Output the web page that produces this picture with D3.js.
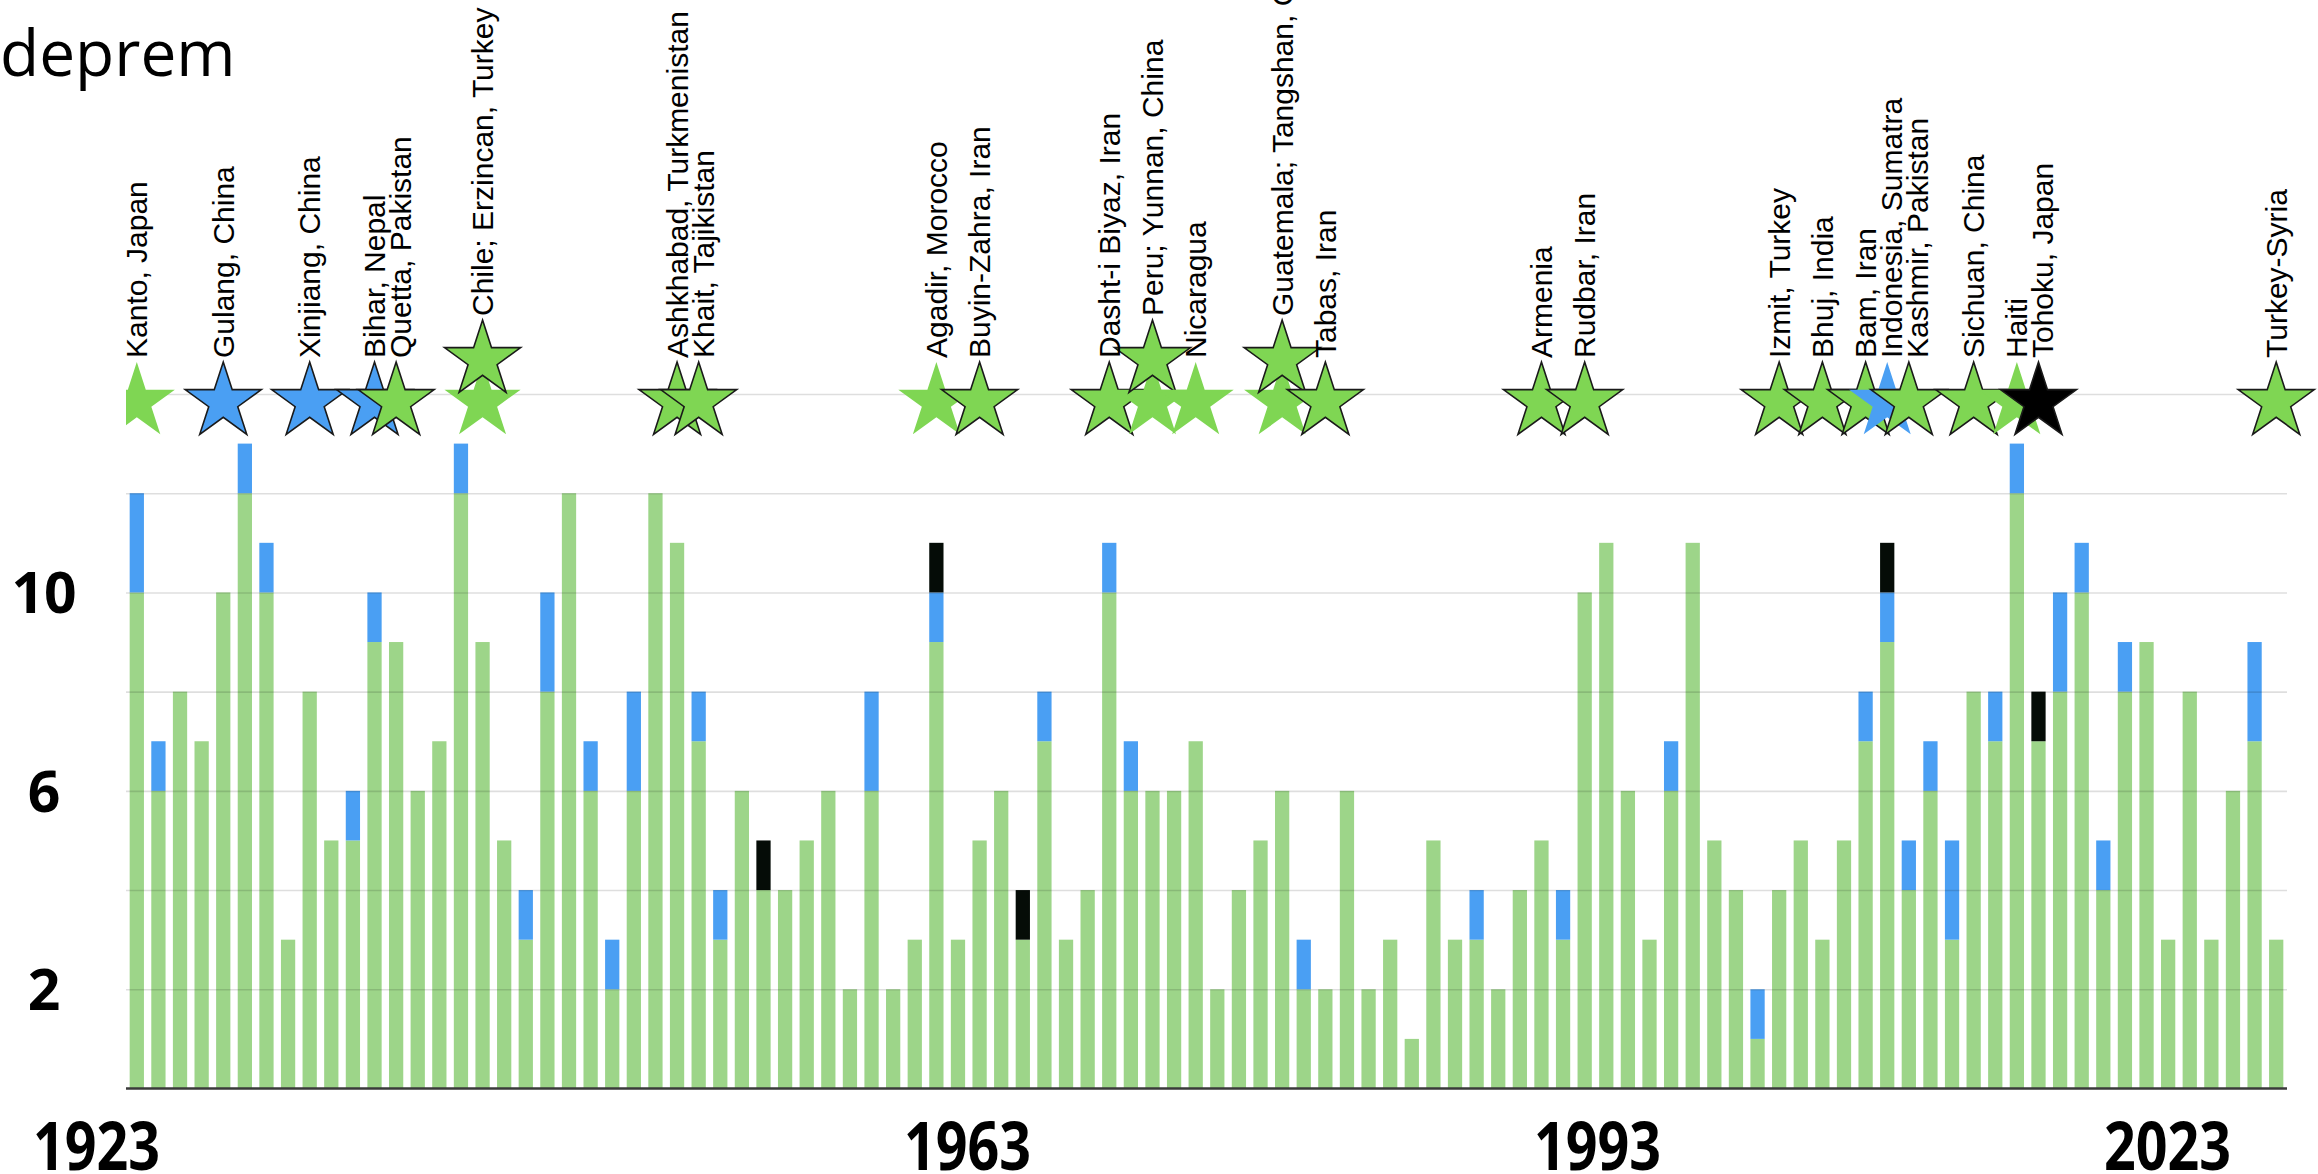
<!DOCTYPE html>
<html>
<head>
<meta charset="utf-8">
<script src="https://cdn.jsdelivr.net/npm/d3@7"></script>
<style>
  html, body { margin: 0; padding: 0; background: #fff; }
  svg { display: block; }
</style>
</head>
<body>
<svg id="chart" width="2318" height="1174"></svg>
<script>
// ---- data -------------------------------------------------------------
const years = d3.range(1923, 2023);

const greenCounts = [
  10, 6, 8, 7, 10, 12, 10, 3, 8, 5,   // 1923-1932
  5, 9, 9, 6, 7, 12, 9, 5, 3, 8,      // 1933-1942
  12, 6, 2, 6, 12, 11, 7, 3, 6, 4,    // 1943-1952
  4, 5, 6, 2, 6, 2, 3, 9, 3, 5,       // 1953-1962
  6, 3, 7, 3, 4, 10, 6, 6, 6, 7,      // 1963-1972
  2, 4, 5, 6, 2, 2, 6, 2, 3, 1,       // 1973-1982
  5, 3, 3, 2, 4, 5, 3, 10, 11, 6,     // 1983-1992
  3, 6, 11, 5, 4, 1, 4, 5, 3, 5,      // 1993-2002
  7, 9, 4, 6, 3, 8, 7, 12, 7, 8,      // 2003-2012
  10, 4, 8, 9, 3, 8, 3, 6, 7, 3       // 2013-2022
];

const blueCounts = [
  2, 1, 0, 0, 0, 1, 1, 0, 0, 0,
  1, 1, 0, 0, 0, 1, 0, 0, 1, 2,
  0, 1, 1, 2, 0, 0, 1, 1, 0, 0,
  0, 0, 0, 0, 2, 0, 0, 1, 0, 0,
  0, 0, 1, 0, 0, 1, 1, 0, 0, 0,
  0, 0, 0, 0, 1, 0, 0, 0, 0, 0,
  0, 0, 1, 0, 0, 0, 1, 0, 0, 0,
  0, 1, 0, 0, 0, 1, 0, 0, 0, 0,
  1, 1, 1, 1, 2, 0, 1, 1, 0, 2,
  1, 1, 1, 0, 0, 0, 0, 0, 2, 0
];

const blackCounts = [
  0, 0, 0, 0, 0, 0, 0, 0, 0, 0,
  0, 0, 0, 0, 0, 0, 0, 0, 0, 0,
  0, 0, 0, 0, 0, 0, 0, 0, 0, 1,
  0, 0, 0, 0, 0, 0, 0, 1, 0, 0,
  0, 1, 0, 0, 0, 0, 0, 0, 0, 0,
  0, 0, 0, 0, 0, 0, 0, 0, 0, 0,
  0, 0, 0, 0, 0, 0, 0, 0, 0, 0,
  0, 0, 0, 0, 0, 0, 0, 0, 0, 0,
  0, 1, 0, 0, 0, 0, 0, 0, 1, 0,
  0, 0, 0, 0, 0, 0, 0, 0, 0, 0
];

// notable earthquakes marked with stars
const quakeYears = [1923, 1927, 1931, 1934, 1935, 1939, 1939, 1948, 1949, 1960,
  1962, 1968, 1970, 1970, 1972, 1976, 1976, 1978, 1988, 1990,
  1999, 2001, 2003, 2004, 2005, 2008, 2010, 2011, 2023];
const quakeNames = ["Kanto, Japan", "Gulang, China", "Xinjiang, China", "Bihar, Nepal",
  "Quetta, Pakistan", "Chile", "Erzincan, Turkey", "Ashkhabad, Turkmenistan",
  "Khait, Tajikistan", "Agadir, Morocco", "Buyin-Zahra, Iran", "Dasht-i Biyaz, Iran",
  "Peru", "Yunnan, China", "Nicaragua", "Guatemala", "Tangshan, China", "Tabas, Iran",
  "Armenia", "Rudbar, Iran", "Izmit, Turkey", "Bhuj, India", "Bam, Iran",
  "Indonesia, Sumatra", "Kashmir, Pakistan", "Sichuan, China", "Haiti",
  "Tohoku, Japan", "Turkey-Syria"];
const quakeSeries = ["green", "blue", "blue", "blue", "green", "green", "green", "green",
  "green", "green", "green", "green", "green", "green", "green", "green", "green", "green",
  "green", "green", "green", "green", "green", "blue", "green", "green", "green",
  "black", "green"];
const quakeOutlined = [false, true, true, true, true, false, true, true, true, false,
  true, true, false, true, false, false, true, true, true, true,
  true, true, true, false, true, true, false, true, true];

const gridValues = [2, 4, 6, 8, 10, 12, 14];
const yTickValues = [2, 6, 10];
const xTickYears = [1923, 1963, 1993, 2023];
const seriesKeys = ["green", "blue", "black"];

// ---- layout -----------------------------------------------------------
const W = 2318, H = 1174;
const plot = { left: 126, right: 2287, top: 394, bottom: 1088.5 };
const starLevel = 14;          // stars sit on the top grid line
const starR = 40;              // outer radius of the star symbol
const starStackStep = 42;      // vertical offset for a second star in the same year

const svg = d3.select("#chart");

const x = d3.scaleBand()
  .domain(years)
  .range([plot.left, plot.right])
  .paddingInner(0.34)
  .paddingOuter(0.17);

const y = d3.scaleLinear()
  .domain([0, 14])
  .range([plot.bottom, plot.top]);

const color = d3.scaleOrdinal()
  .domain(seriesKeys)
  .range(["#9dd589", "#4a9ff3", "#050c07"]);

const starColor = d3.scaleOrdinal()
  .domain(seriesKeys)
  .range(["#7fd653", "#4a9ff3", "#000000"]);

// star positions follow the bar centres; later years pin to the last bar
const starX = d3.scaleLinear()
  .domain([years[0], years[years.length - 1]])
  .range([x(years[0]) + x.bandwidth() / 2, x(years[years.length - 1]) + x.bandwidth() / 2])
  .clamp(true);

// ---- title ------------------------------------------------------------
svg.append("text")
  .attr("x", 0)
  .attr("y", 76)
  .attr("font-family", "'Open Sans', sans-serif")
  .attr("font-size", 64)
  .attr("fill", "#000")
  .text("deprem");

// ---- stacked bars -----------------------------------------------------
const rows = years.map((yr, i) => ({
  year: yr, green: greenCounts[i], blue: blueCounts[i], black: blackCounts[i]
}));
const stacked = d3.stack().keys(seriesKeys)(rows);

svg.append("g")
  .selectAll("g")
  .data(stacked)
  .join("g")
  .attr("fill", d => color(d.key))
  .selectAll("rect")
  .data(d => d.filter(s => s[1] > s[0]))
  .join("rect")
  .attr("x", d => x(d.data.year))
  .attr("width", x.bandwidth())
  .attr("y", d => y(d[1]))
  .attr("height", d => y(d[0]) - y(d[1]));

// ---- grid lines & y labels -------------------------------------------
const grid = svg.append("g")
  .attr("transform", `translate(${plot.left},0)`)
  .call(d3.axisLeft(y).tickValues(gridValues).tickSize(-(plot.right - plot.left)).tickFormat(""));
grid.select(".domain").remove();
grid.selectAll(".tick line")
  .attr("stroke", "#000")
  .attr("stroke-opacity", 0.13)
  .attr("stroke-width", 1.6);

const yLabels = svg.append("g")
  .attr("transform", `translate(${plot.left},0)`)
  .call(d3.axisLeft(y).tickValues(yTickValues).tickSize(0));
yLabels.select(".domain").remove();
yLabels.selectAll(".tick text")
  .attr("x", 44 - plot.left)
  .attr("dy", "0.36em")
  .attr("text-anchor", "middle")
  .attr("font-family", "'Open Sans', sans-serif")
  .attr("font-weight", 700)
  .attr("font-size", 57)
  .attr("fill", "#000");

// baseline
svg.append("line")
  .attr("x1", plot.left).attr("x2", plot.right)
  .attr("y1", y(0)).attr("y2", y(0))
  .attr("stroke", "#3a3a3a")
  .attr("stroke-width", 2.5);

// ---- x labels ---------------------------------------------------------
const xLabelScale = d3.scaleLinear()
  .domain(xTickYears)
  .range([96, 967, 1597, 2167]);

const xAxis = svg.append("g")
  .attr("transform", `translate(0,${plot.bottom})`)
  .call(d3.axisBottom(xLabelScale).tickValues(xTickYears).tickSize(0).tickFormat(d3.format("d")));
xAxis.select(".domain").remove();
xAxis.selectAll(".tick text")
  .attr("y", 81)
  .attr("dy", null)
  .attr("font-family", "'Open Sans', sans-serif")
  .attr("font-weight", 700)
  .attr("font-size", 66)
  .attr("textLength", 127)
  .attr("lengthAdjust", "spacingAndGlyphs")
  .attr("fill", "#000");

// ---- stars ------------------------------------------------------------
svg.append("defs").append("clipPath").attr("id", "starClip")
  .append("rect")
  .attr("x", plot.left).attr("y", 0)
  .attr("width", W - plot.left).attr("height", H);

const quakes = quakeYears.map((yr, i) => ({
  year: yr, name: quakeNames[i], series: quakeSeries[i], outlined: quakeOutlined[i]
}));
// stack stars that share a year
const levelCount = new Map();
quakes.forEach(q => {
  const n = levelCount.get(q.year) || 0;
  q.level = n;
  levelCount.set(q.year, n + 1);
});

const lineY = y(starLevel);
const starCY = q => lineY + 0.2 * starR - q.level * starStackStep;
const starPath = d3.symbol().type(d3.symbolStar).size(starR * starR / 0.8908130915292852);

svg.append("g")
  .attr("clip-path", "url(#starClip)")
  .selectAll("path")
  .data(quakes)
  .join("path")
  .attr("d", starPath)
  .attr("transform", q => `translate(${starX(q.year)},${starCY(q)})`)
  .attr("fill", q => starColor(q.series))
  .attr("stroke", q => q.outlined ? "#1a1a1a" : "none")
  .attr("stroke-width", 1.6)
  .attr("stroke-linejoin", "miter");

// one label per year, names joined when stars are stacked
const groups = d3.groups(quakes, q => q.year).map(([yr, list]) => ({
  year: yr,
  text: list.map(q => q.name).join("; "),
  top: d3.min(list, q => starCY(q)) - starR,
  x: starX(yr)
}));
// nudge neighbouring labels apart
const minGap = 26;
groups.sort((a, b) => a.x - b.x);
for (let i = 1; i < groups.length; i++) {
  if (groups[i].x - groups[i - 1].x < minGap) groups[i].x = groups[i - 1].x + minGap;
}

svg.append("g")
  .selectAll("text")
  .data(groups)
  .join("text")
  .attr("transform", g => `translate(${g.x},${g.top - 4}) rotate(-90)`)
  .attr("dy", "0.35em")
  .attr("text-anchor", "start")
  .attr("font-family", "'Liberation Sans', Arial, sans-serif")
  .attr("font-size", 30)
  .attr("fill", "#000")
  .text(g => g.text);
</script>
</body>
</html>
